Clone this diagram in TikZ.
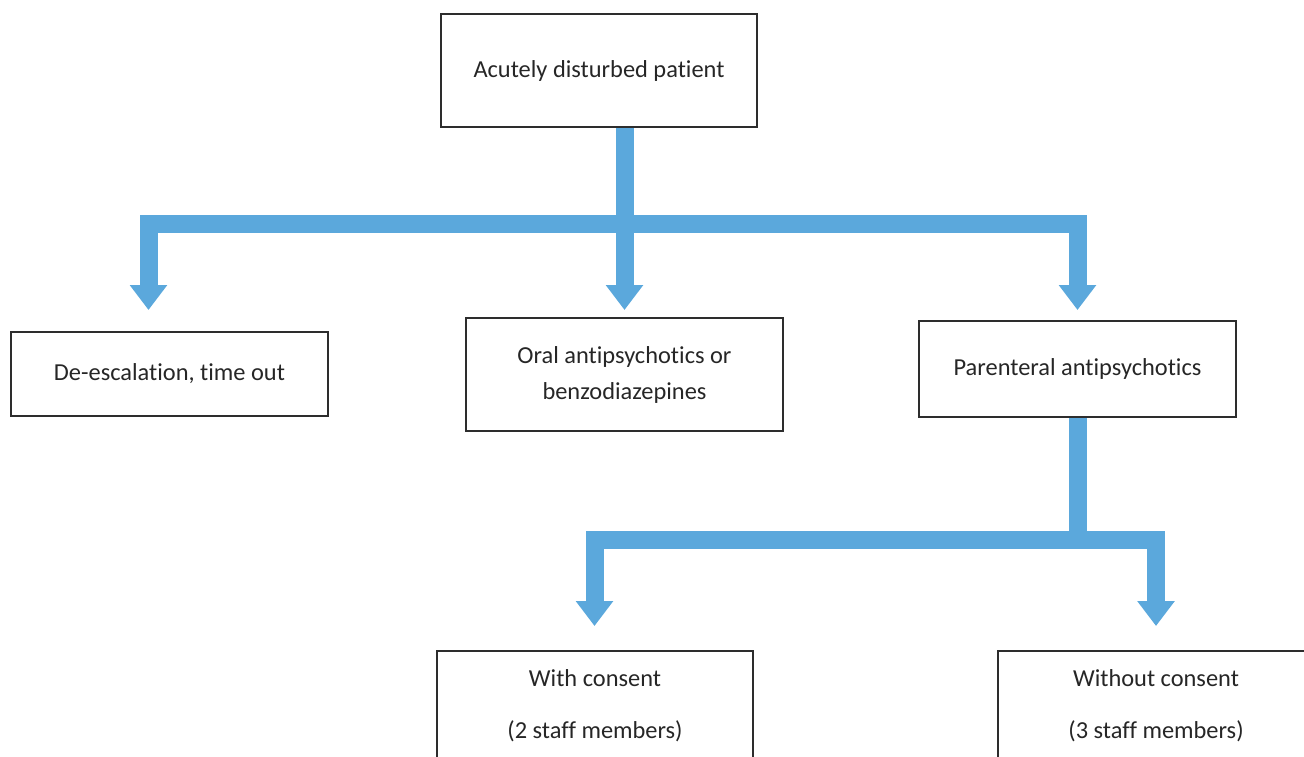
\documentclass[tikz,border=0pt]{standalone}
\usepackage{fontspec}
\setmainfont{Carlito}[Ligatures={NoCommon}]
\usetikzlibrary{arrows.meta}
\definecolor{flow}{RGB}{91,168,220}
\definecolor{edge}{RGB}{45,45,45}
\begin{document}
\begin{tikzpicture}[x=1pt,y=-1pt,
  box/.style={draw=edge, line width=2.4pt, rectangle, inner sep=0pt, align=center,
    text=black!85, font=\fontsize{24.4}{36}\selectfont},
  flowbar/.style={draw=flow, line width=18pt, line join=miter},
  flowline/.style={flowbar, -{Triangle[width=36pt,length=25pt]}}]
\useasboundingbox (0,0) rectangle (1304,756);
\clip (0,0) rectangle (1304,756);
% boxes
\node[box, minimum width=316pt, minimum height=113pt] (top) at (599,70.5) {Acutely disturbed patient};
\node[box, minimum width=317pt, minimum height=84pt] (deesc) at (169.5,374) {De-escalation, time out};
\node[box, minimum width=317pt, minimum height=113pt] (oral) at (624.5,374.5) {Oral antipsychotics or\\benzodiazepines};
\node[box, minimum width=317pt, minimum height=96pt] (par) at (1077.5,369) {Parenteral antipsychotics};
\node[box, minimum width=316pt, minimum height=110pt] (cons) at (595,706) {With consent\\[16pt](2 staff members)};
\node[box, minimum width=316pt, minimum height=110pt] (ncons) at (1156,706) {Without consent\\[16pt](3 staff members)};
% junctions and arrow tips
\coordinate (j1) at (624.5,223.5);
\coordinate (t1) at (148.5,310);
\coordinate (t2) at (624.5,310);
\coordinate (t3) at (1077.5,310);
\coordinate (j2) at (1077.5,539.5);
\coordinate (t4) at (594.5,626);
\coordinate (t5) at (1156,626);
% connectors
\draw[flowline] (top.south -| j1) -- (t2);
\draw[flowline] (j1) -| (t1);
\draw[flowline] (j1) -| (t3);
\draw[flowbar] (par.south) -- (j2);
\draw[flowline] (j2) -| (t4);
\draw[flowline] (j2) -| (t5);
\end{tikzpicture}
\end{document}
